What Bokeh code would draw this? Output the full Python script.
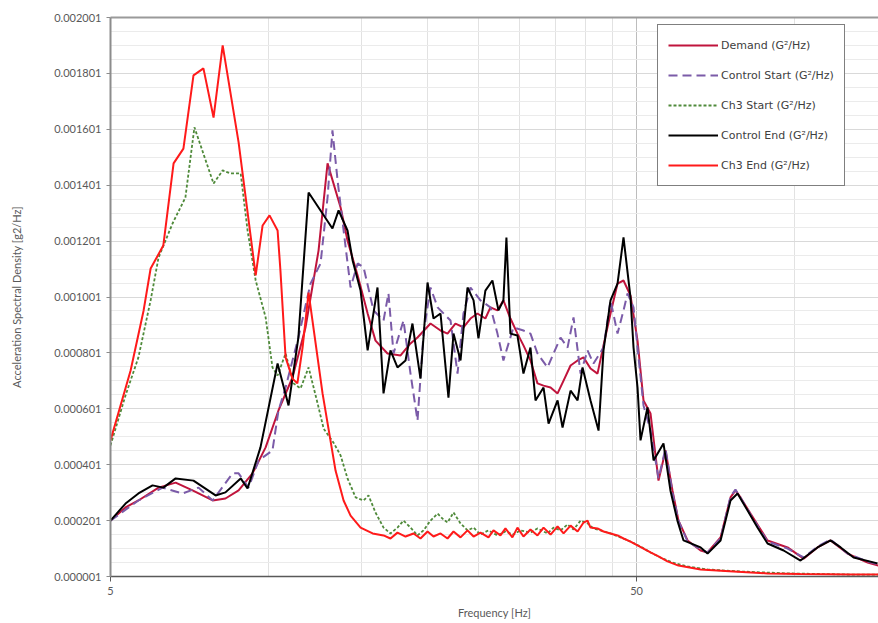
from bokeh.plotting import figure
from bokeh.models import (Range1d, FixedTicker, PrintfTickFormatter, Legend, LegendItem, LogAxis)
from bokeh.embed import file_html
from bokeh.resources import INLINE

# ---------------- data (frequency in Hz, PSD in g^2/Hz) ----------------
Y_TICKS = [0.000001, 0.000201, 0.000401, 0.000601, 0.000801, 0.001001,
           0.001201, 0.001401, 0.001601, 0.001801, 0.002001]
Y_MINOR = [0.000051, 0.000101, 0.000151, 0.000251, 0.000301, 0.000351,
           0.000451, 0.000501, 0.000551, 0.000651, 0.000701, 0.000751,
           0.000851, 0.000901, 0.000951, 0.001051, 0.001101, 0.001151,
           0.001251, 0.001301, 0.001351, 0.001451, 0.001501, 0.001551,
           0.001651, 0.001701, 0.001751, 0.001851, 0.001901, 0.001951]
X_TICKS = [5, 50]
X_MINOR = [10, 15, 20, 25, 30, 35, 40, 45, 100]

DEMAND_F = [5.00, 5.34, 5.65, 6.17, 6.65, 7.16, 7.82, 8.27, 8.76, 9.31, 9.86, 10.43, 11.09, 11.74, 12.43,
            12.93, 13.69, 14.11, 14.75, 15.41, 15.95, 16.81, 17.80, 18.59, 19.17, 20.29, 21.20, 21.86, 22.63,
            23.44, 24.17, 24.92, 25.80, 26.38, 27.20, 27.92, 28.79, 29.69, 30.48, 31.43, 32.41, 33.28, 34.32,
            35.39, 36.33, 37.46, 38.63, 39.65, 40.88, 42.15, 43.27, 44.62, 46.01, 47.23, 48.70, 50.22, 51.55,
            53.16, 55.05, 56.76, 58.52, 60.08, 62.52, 66.19, 68.23, 72.23, 75.45, 77.1, 78.81, 82.34, 88.73,
            96.85, 103.9, 110.4, 116.9, 125.9, 137.5, 144.2]
DEMAND_V = [201e-6, 248e-6, 273e-6, 319e-6, 337e-6, 309e-6, 273e-6, 280e-6, 309e-6, 370e-6, 463e-6, 595e-6,
            713e-6, 892e-6, 1167e-6, 1479e-6, 1321e-6, 1203e-6, 1078e-6, 942e-6, 845e-6, 799e-6, 792e-6,
            835e-6, 856e-6, 906e-6, 881e-6, 870e-6, 906e-6, 892e-6, 924e-6, 942e-6, 924e-6, 964e-6, 953e-6,
            989e-6, 924e-6, 870e-6, 828e-6, 774e-6, 692e-6, 684e-6, 677e-6, 656e-6, 702e-6, 756e-6, 774e-6,
            785e-6, 745e-6, 727e-6, 828e-6, 942e-6, 1049e-6, 1060e-6, 1006e-6, 845e-6, 631e-6, 584e-6, 344e-6,
            452e-6, 309e-6, 201e-6, 130e-6, 94e-6, 87e-6, 141e-6, 284e-6, 309e-6, 284e-6, 226e-6, 130e-6,
            105e-6, 65e-6, 105e-6, 130e-6, 83e-6, 51e-6, 40e-6]

CTRL_START_F = [5.00, 5.65, 6.28, 6.85, 7.35, 7.82, 8.53, 8.76, 9.15, 9.56, 10.16, 10.43, 10.76, 11.38, 12.00,
                12.54, 12.93, 13.21, 13.51, 13.87, 14.30, 14.75, 15.14, 15.81, 16.52, 16.88, 17.26, 18.03,
                18.59, 19.17, 19.68, 20.29, 20.93, 22.15, 22.84, 23.44, 24.17, 25.25, 26.38, 27.20, 27.92,
                29.17, 30.48, 31.43, 32.41, 33.87, 34.77, 35.85, 36.97, 37.95, 39.14, 40.35, 41.42, 43.27,
                44.62, 46.01, 47.23, 48.07, 49.35, 50.22, 51.55, 53.16, 55.05, 56.76, 58.52, 60.08, 62.52,
                66.19, 68.23, 72.23, 75.45, 77.1, 78.81, 82.34, 88.73, 96.85, 103.9, 110.4, 116.9, 125.9,
                137.5, 144.2]
CTRL_START_V = [201e-6, 273e-6, 319e-6, 298e-6, 319e-6, 273e-6, 370e-6, 370e-6, 319e-6, 416e-6, 452e-6,
                595e-6, 677e-6, 856e-6, 1049e-6, 1121e-6, 1357e-6, 1597e-6, 1418e-6, 1239e-6, 1035e-6,
                1121e-6, 1107e-6, 953e-6, 917e-6, 1014e-6, 799e-6, 917e-6, 727e-6, 559e-6, 870e-6, 1035e-6,
                964e-6, 917e-6, 727e-6, 942e-6, 1035e-6, 989e-6, 964e-6, 870e-6, 774e-6, 892e-6, 881e-6,
                870e-6, 799e-6, 749e-6, 799e-6, 856e-6, 820e-6, 928e-6, 727e-6, 810e-6, 763e-6, 820e-6,
                989e-6, 870e-6, 953e-6, 1014e-6, 964e-6, 820e-6, 613e-6, 523e-6, 352e-6, 459e-6, 302e-6,
                201e-6, 126e-6, 98e-6, 87e-6, 137e-6, 287e-6, 312e-6, 284e-6, 223e-6, 126e-6, 101e-6, 69e-6,
                108e-6, 133e-6, 83e-6, 55e-6, 44e-6]

CH3_START_F = [5.00, 5.34, 5.65, 5.96, 6.17, 6.56, 6.94, 7.22, 7.85, 8.17, 8.45, 8.84, 9.11, 9.44, 9.86,
               10.16, 10.39, 10.76, 11.14, 11.49, 11.90, 12.38, 12.71, 13.27, 13.69, 14.11, 14.62, 15.14,
               15.47, 15.95, 16.52, 17.03, 17.56, 18.03, 18.59, 19.17, 19.68, 20.29, 20.93, 21.39, 21.86,
               22.44, 23.14, 23.86, 24.5, 25.25, 26.15, 27.20, 28.17, 29.17, 30.08, 31.43, 32.41, 33.87,
               34.77, 35.85, 36.97, 37.95, 39.14, 40.35, 41.42, 42.71, 44.62, 46.61, 48.70, 50.88, 53.16,
               55.5, 58.52, 62.52, 68.23, 78.81, 96.85, 127.6, 144.2]
CH3_START_V = [470e-6, 649e-6, 785e-6, 989e-6, 1142e-6, 1264e-6, 1357e-6, 1608e-6, 1407e-6, 1454e-6,
               1443e-6, 1443e-6, 1239e-6, 1060e-6, 928e-6, 749e-6, 720e-6, 799e-6, 692e-6, 674e-6, 749e-6,
               620e-6, 530e-6, 480e-6, 434e-6, 352e-6, 284e-6, 273e-6, 291e-6, 230e-6, 176e-6, 155e-6,
               176e-6, 201e-6, 176e-6, 148e-6, 166e-6, 201e-6, 226e-6, 208e-6, 194e-6, 230e-6, 191e-6,
               166e-6, 176e-6, 151e-6, 166e-6, 148e-6, 162e-6, 151e-6, 166e-6, 158e-6, 173e-6, 155e-6,
               176e-6, 166e-6, 187e-6, 169e-6, 201e-6, 191e-6, 173e-6, 166e-6, 155e-6, 141e-6, 126e-6,
               108e-6, 87e-6, 69e-6, 51e-6, 37e-6, 26e-6, 19e-6, 12e-6, 8e-6, 8e-6]

CTRL_END_F = [5.00, 5.34, 5.65, 6.01, 6.30, 6.65, 7.19, 7.92, 8.27, 8.84, 9.11, 9.64, 10.39, 10.90, 11.38,
              11.90, 13.21, 13.57, 14.11, 14.43, 14.94, 15.41, 16.09, 16.52, 17.03, 17.56, 18.19, 18.75,
              19.42, 20.03, 20.56, 21.20, 21.95, 22.44, 23.14, 23.86, 24.5, 25.03, 25.80, 26.61, 27.32,
              27.92, 28.29, 28.79, 29.69, 30.48, 31.43, 32.13, 33.28, 34.02, 35.39, 36.17, 37.46, 38.63,
              39.48, 40.88, 42.34, 43.27, 44.62, 46.01, 47.23, 48.70, 49.35, 50.22, 50.88, 52.46, 53.16,
              53.87, 56.26, 58.0, 59.8, 61.42, 66.19, 68.23, 72.23, 75.45, 77.8, 81.3, 84.9, 88.73, 95.2,
              102.5, 110.4, 116.9, 122.2, 129.3, 143.6]
CTRL_END_V = [201e-6, 262e-6, 298e-6, 327e-6, 319e-6, 352e-6, 344e-6, 291e-6, 302e-6, 352e-6, 316e-6,
              463e-6, 763e-6, 613e-6, 856e-6, 1375e-6, 1246e-6, 1311e-6, 1239e-6, 1132e-6, 1024e-6, 810e-6,
              1035e-6, 656e-6, 810e-6, 749e-6, 774e-6, 906e-6, 709e-6, 1053e-6, 924e-6, 942e-6, 641e-6,
              870e-6, 774e-6, 1035e-6, 989e-6, 853e-6, 1024e-6, 1060e-6, 953e-6, 989e-6, 1214e-6, 870e-6,
              863e-6, 727e-6, 820e-6, 631e-6, 677e-6, 548e-6, 631e-6, 534e-6, 666e-6, 631e-6, 749e-6,
              631e-6, 523e-6, 810e-6, 989e-6, 1049e-6, 1214e-6, 999e-6, 820e-6, 677e-6, 488e-6, 606e-6,
              513e-6, 416e-6, 477e-6, 309e-6, 201e-6, 130e-6, 105e-6, 83e-6, 130e-6, 273e-6, 298e-6,
              237e-6, 176e-6, 119e-6, 94e-6, 58e-6, 105e-6, 130e-6, 105e-6, 69e-6, 48e-6]

CH3_END_F = [5.00, 5.46, 5.78, 5.96, 6.30, 6.59, 6.88, 7.19, 7.51, 7.85, 8.17, 8.76, 9.44, 9.73, 10.03,
             10.39, 10.52, 10.76, 11.09, 11.33, 11.59, 11.90, 12.65, 13.39, 13.87, 14.30, 14.94, 15.75,
             16.52, 17.03, 17.56, 18.19, 18.84, 19.42, 20.03, 20.56, 21.20, 21.86, 22.44, 23.14, 23.86,
             24.5, 25.25, 26.15, 26.73, 27.56, 28.17, 29.04, 29.69, 30.48, 31.43, 32.41, 33.28, 34.32,
             35.39, 36.33, 37.46, 38.63, 39.65, 40.35, 40.88, 42.15, 43.27, 44.62, 46.01, 47.23, 48.70,
             50.22, 51.55, 53.16, 55.05, 57.26, 60.08, 66.19, 76.44, 88.73, 102.5, 127.6, 144.2]
CH3_END_V = [488e-6, 738e-6, 953e-6, 1103e-6, 1185e-6, 1479e-6, 1532e-6, 1794e-6, 1819e-6, 1643e-6,
             1901e-6, 1554e-6, 1078e-6, 1257e-6, 1293e-6, 1239e-6, 1096e-6, 785e-6, 709e-6, 692e-6, 820e-6,
             1017e-6, 656e-6, 380e-6, 273e-6, 219e-6, 176e-6, 155e-6, 148e-6, 137e-6, 158e-6, 144e-6,
             155e-6, 137e-6, 162e-6, 144e-6, 155e-6, 137e-6, 162e-6, 141e-6, 166e-6, 144e-6, 158e-6,
             141e-6, 166e-6, 148e-6, 173e-6, 141e-6, 176e-6, 144e-6, 169e-6, 148e-6, 176e-6, 151e-6,
             180e-6, 155e-6, 183e-6, 162e-6, 194e-6, 201e-6, 176e-6, 173e-6, 162e-6, 155e-6, 148e-6,
             137e-6, 126e-6, 112e-6, 101e-6, 87e-6, 73e-6, 55e-6, 40e-6, 26e-6, 19e-6, 12e-6, 10e-6, 8e-6,
             8e-6]

SERIES_NAMES = ["Demand (G\u00b2/Hz)", "Control Start (G\u00b2/Hz)", "Ch3 Start (G\u00b2/Hz)",
                "Control End (G\u00b2/Hz)", "Ch3 End (G\u00b2/Hz)"]

# ---------------- figure ----------------
FONT = "Lato"
TXT = "#595959"

p = figure(width=878, height=623, x_axis_type="log", output_backend="svg", toolbar_location=None,
           x_range=Range1d(5, 144.2), y_range=Range1d(0.000001, 0.002001),
           min_border_left=110, min_border_right=0, min_border_top=17, min_border_bottom=47)
p.outline_line_color = None
p.background_fill_color = "white"
p.border_fill_color = "white"

# axes
p.xaxis.ticker = FixedTicker(ticks=X_TICKS, minor_ticks=X_MINOR)
p.xaxis.formatter = PrintfTickFormatter(format="%d")
p.yaxis.ticker = FixedTicker(ticks=Y_TICKS, minor_ticks=Y_MINOR)
p.yaxis.formatter = PrintfTickFormatter(format="%.6f")

for ax in (p.xaxis[0], p.yaxis[0]):
    ax.major_label_text_font = FONT
    ax.major_label_text_font_size = "11px"
    ax.major_label_text_color = TXT
    ax.axis_label_text_font = FONT
    ax.axis_label_text_font_size = "11px"
    ax.axis_label_text_font_style = "normal"
    ax.axis_label_text_color = TXT
    ax.minor_tick_line_color = None
    ax.major_tick_in = 0

p.yaxis.axis_label = "Acceleration Spectral Density [g2/Hz]"
p.yaxis.axis_label_standoff = 28
p.yaxis.axis_line_color = "#8C8C8C"
p.yaxis.axis_line_width = 2
p.yaxis.major_tick_line_color = "#8C8C8C"
p.yaxis.major_tick_out = 4
p.yaxis.major_label_standoff = 5

p.xaxis.axis_label = "Frequency [Hz]"
p.xaxis.axis_label_standoff = 8
p.xaxis.axis_line_color = "#595959"
p.xaxis.axis_line_width = 1.5
p.xaxis.major_tick_line_color = "#595959"
p.xaxis.major_tick_out = 5
p.xaxis.major_label_standoff = 5

top = LogAxis(ticker=FixedTicker(ticks=[]), axis_line_color="#9A9A9A", axis_line_width=2,
              major_tick_line_color=None, minor_tick_line_color=None,
              major_label_text_font_size="0px")
p.add_layout(top, "above")

# grid
p.xgrid.grid_line_color = "#BDBDBD"
p.xgrid.minor_grid_line_color = "#E2E2E2"
p.ygrid.grid_line_color = "#D9D9D9"
p.ygrid.minor_grid_line_color = "#EBEBEB"

# lines (drawn in series order)
r_dem = p.line(DEMAND_F, DEMAND_V, line_color="#C0143C", line_width=2)
r_cs = p.line(CTRL_START_F, CTRL_START_V, line_color="#7B5BA8", line_width=2, line_dash="9 5")
r_c3s = p.line(CH3_START_F, CH3_START_V, line_color="#4F8A3A", line_width=1.8, line_dash="3 2")
r_ce = p.line(CTRL_END_F, CTRL_END_V, line_color="#000000", line_width=2)
r_c3e = p.line(CH3_END_F, CH3_END_V, line_color="#FF1A1A", line_width=2)

legend = Legend(items=[LegendItem(label=SERIES_NAMES[0], renderers=[r_dem]),
                       LegendItem(label=SERIES_NAMES[1], renderers=[r_cs]),
                       LegendItem(label=SERIES_NAMES[2], renderers=[r_c3s]),
                       LegendItem(label=SERIES_NAMES[3], renderers=[r_ce]),
                       LegendItem(label=SERIES_NAMES[4], renderers=[r_c3e])],
                location=(547, 390))
legend.border_line_color = "#000000"
legend.border_line_width = 1
legend.background_fill_color = "white"
legend.background_fill_alpha = 1
legend.label_text_font = "DejaVu Sans"
legend.label_text_font_size = "11px"
legend.label_text_color = "#404040"
legend.glyph_width = 50
legend.glyph_height = 20
legend.label_height = 20
legend.spacing = 10
legend.padding = 10
legend.margin = 0
legend.label_standoff = 3
p.add_layout(legend)

open("out.html", "w").write(file_html(p, INLINE))
